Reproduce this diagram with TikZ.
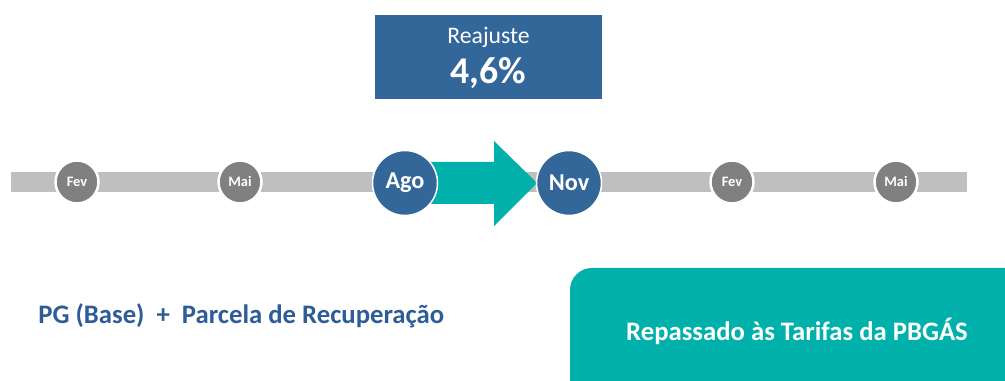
\documentclass[tikz,border=0pt]{standalone}
\usepackage{fontspec}
\setmainfont{Carlito}
\definecolor{tealc}{RGB}{0,176,170}
\definecolor{bluec}{RGB}{51,102,153}
\definecolor{textblue}{RGB}{46,92,150}
\definecolor{bargray}{RGB}{191,191,191}
\definecolor{dotgray}{RGB}{128,128,128}
\tikzset{
  smalldot/.style={circle,fill=dotgray,draw=white,line width=0.05cm,minimum size=0.86cm,inner sep=0pt,text=white,font=\bfseries\fontsize{8.2}{10}\selectfont},
  bigdot/.style={circle,fill=bluec,draw=white,line width=0.03cm,minimum size=1.3cm,inner sep=0pt,text=white,font=\bfseries\fontsize{13.8}{16}\selectfont},
}
\begin{document}
\begin{tikzpicture}[x=0.02cm,y=-0.02cm]
\useasboundingbox (0,0) rectangle (1005,381);
% bar
\coordinate (barL) at (11,182);
\coordinate (barR) at (967,182);
\draw[bargray,line width=0.4cm] (barL) -- (barR);
% arrow
\fill[tealc] (420,162) -- (494,162) -- (494,141) -- (537,183) -- (494,226) -- (494,204) -- (420,204) -- cycle;
% dots
\node[smalldot] (fev1) at (77,182) {Fev};
\node[smalldot] (mai1) at (240,182) {Mai};
\node[bigdot] (ago) at (405,183) {Ago};
\node[bigdot] (nov) at (569,183) {Nov};
\node[smalldot] (fev2) at (732,182) {Fev};
\node[smalldot] (mai2) at (896,182) {Mai};
% reajuste box
\fill[bluec] (375,15) rectangle (602,99);
\node[text=white,font=\fontsize{13.5}{16}\selectfont] (reaj) at (488.5,37) {Reajuste};
\node[text=white,font=\bfseries\fontsize{21.5}{26}\selectfont] (pct) at (488.5,73) {4,6\%};
% bottom left text
\node[anchor=west,inner sep=0pt,text=textblue,font=\bfseries\fontsize{15.2}{18}\selectfont] (pg) at (38,316) {PG (Base) \ + \ Parcela de Recuperação};
% teal box
\fill[tealc] (570,381) -- (570,290) arc[start angle=180,end angle=270,radius=22] -- (1005,268) -- (1005,381) -- cycle;
\node[text=white,font=\bfseries\fontsize{15.2}{18}\selectfont] (rep) at (797,331) {Repassado às Tarifas da PBGÁS};
\end{tikzpicture}
\end{document}
